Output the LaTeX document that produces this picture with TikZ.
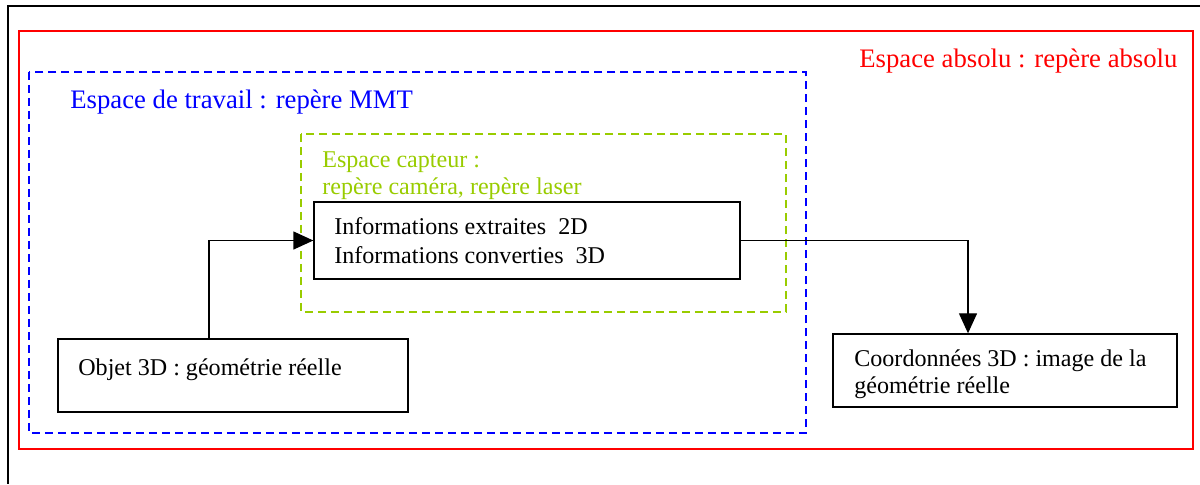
\documentclass[tikz,border=0pt]{standalone}
\usepackage{fontspec}
\setmainfont{Liberation Serif}
\usetikzlibrary{arrows.meta}
\definecolor{vertcapteur}{RGB}{153,204,0}

\tikzset{
  boite/.style={draw, line width=0.8pt, inner sep=0pt},
  texte/.style={anchor=base west, inner sep=0pt, font=\fontsize{13.7}{16}\selectfont},
  titre/.style={anchor=base west, inner sep=0pt, font=\fontsize{15.2}{18}\selectfont},
  fleche/.style={line width=0.75pt, -{Triangle[length=0.4cm,width=0.36cm]}}
}

\begin{document}
\begin{tikzpicture}[x=0.02cm,y=-0.02cm]
    \useasboundingbox (0,0) rectangle (1200,484);
    % cadre
    \draw[line width=1.1pt] (1200,6) -- (8,6) -- (8,484);
    % espaces
    \draw[red, line width=0.8pt] (19,31) rectangle (1193,449);
    \draw[blue, line width=0.8pt, dash pattern=on 0.16cm off 0.1cm] (29,72) rectangle (806,433);
    \draw[vertcapteur, line width=0.8pt, dash pattern=on 0.16cm off 0.1cm] (301,134) rectangle (786,312);
    \node[titre, red] (absolu) at (859,67) {Espace absolu : repère absolu};
    \node[titre, blue] (travail) at (70,108) {Espace de travail : repère MMT};
    \node[texte, vertcapteur] (capteur) at (322,167) {Espace capteur :};
    \node[texte, vertcapteur] (capteur2) at (322,194) {repère caméra, repère laser};

    % boites
    \node[boite, minimum width=7cm, minimum height=1.46cm] (objet) at (233,375.5) {};
    \node[boite, minimum width=8.52cm, minimum height=1.54cm] (infos) at (527,240.5) {};
    \node[boite, minimum width=6.88cm, minimum height=1.46cm] (coord) at (1005,370.5) {};
    \node[texte] (objettxt) at (78,375) {Objet 3D : géométrie réelle};
    \node[texte] (infos1) at (334,234) {Informations extraites \ 2D};
    \node[texte] (infos2) at (334,263) {Informations converties \ 3D};
    \node[texte] (coord1) at (854,366) {Coordonnées 3D : image de la};
    \node[texte] (coord2) at (854,393) {géométrie réelle};

    % fleches
    \draw[fleche] ([shift={(-24,0)}]objet.north) |- (infos.west);
    \draw[fleche] (infos.east) -| ([shift={(-37,0)}]coord.north);
\end{tikzpicture}
\end{document}
